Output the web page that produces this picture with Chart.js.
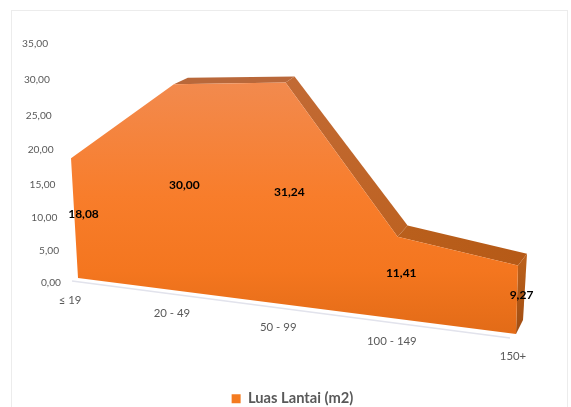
<!DOCTYPE html>
<html>
<head>
<meta charset="utf-8">
<title>Luas Lantai (m2)</title>
<script src="https://cdn.jsdelivr.net/npm/chart.js@4"></script>
<style>
  html, body { margin: 0; padding: 0; background: #ffffff; overflow: hidden; }
  #frame { position: absolute; left: 11px; top: 10px; width: 555px; height: 420px; border: 1px solid #ececec; }
  #wrap { position: absolute; left: 0; top: 0; width: 571px; height: 416px; }
</style>
</head>
<body>
<div id="frame"></div>
<div id="wrap"><canvas id="areaChart"></canvas></div>
<script>
const CATEGORIES = ['≤ 19', '20 - 49', '50 - 99', '100 - 149', '150+'];
const LUAS_LANTAI = [18.08, 30.00, 31.24, 11.41, 9.27];
const Y_MAX = 35;
const Y_STEP = 5;

const fmtValue = v => v.toFixed(2).replace('.', ',');

// 3D view: front floor edge runs between these two points, the wall leans back behind it
const FLOOR_LEFT = { x: 78, y: 278 };
const FLOOR_RIGHT = { x: 516, y: 334 };
const FLOOR_STOPS = [0, 0.235, 0.48, 0.728, 1];
const WALL_DX = [12, 14, 9, 10, 9];
const TICK_NUDGE = [-8, -9, -10, -5, -3];
const VALUE_NUDGE = [3, 0, -2, -1, 0];

// f: 0..1 across the x scale, v: data value, d: 0 front face .. 1 back face
function project(f, v, d) {
  const i = Math.round(f * 4);
  const p = FLOOR_STOPS[i];
  const unit = (6.51 + 0.006 * v) * (1 + 0.125 * f);
  const lean = -0.387 + 0.603 * f;
  let x = FLOOR_LEFT.x + (FLOOR_RIGHT.x - FLOOR_LEFT.x) * p + lean * v;
  let y = FLOOR_LEFT.y + (FLOOR_RIGHT.y - FLOOR_LEFT.y) * p - unit * v;
  x += (v === 0 ? 7 : WALL_DX[i]) * d;
  y += (-14 + 0.25 * v) * d;
  return { x, y };
}

function fillPoly(ctx, pts, style) {
  ctx.beginPath();
  pts.forEach((p, i) => i ? ctx.lineTo(p.x, p.y) : ctx.moveTo(p.x, p.y));
  ctx.closePath();
  ctx.fillStyle = style;
  ctx.fill();
}

function linearFill(ctx, a, b, c0, c1) {
  const g = ctx.createLinearGradient(a.x, a.y, b.x, b.y);
  g.addColorStop(0, c0);
  g.addColorStop(1, c1);
  return g;
}

// Draws the extruded area and its axis text from the chart's own scales
const area3d = {
  id: 'area3d',
  beforeDatasetsDraw(chart) {
    const { ctx, scales: { x: xs, y: ys } } = chart;
    const pts = chart.getDatasetMeta(0).data.map(pt => ({
      f: (pt.x - xs.left) / xs.width,
      v: ys.getValueForPixel(pt.y)
    }));
    const n = pts.length;
    const front = pts.map(p => project(p.f, p.v, 0));
    const back = pts.map(p => project(p.f, p.v, 1));
    const base0 = project(pts[0].f, 0, 0);
    const baseN = project(pts[n - 1].f, 0, 0);
    const baseBack = project(pts[n - 1].f, 0, 1);

    ctx.save();

    // floor line just below the front edge
    ctx.strokeStyle = '#e2e3ec';
    ctx.lineWidth = 1.6;
    ctx.beginPath();
    ctx.moveTo(base0.x - 6, base0.y + 3);
    ctx.lineTo(baseN.x - 6, baseN.y + 4);
    ctx.stroke();

    // top faces, the rising first segment is hidden behind the front face
    const topColors = [null, '#b9683a', '#c26a34', '#b95f1c'];
    const topEnds = [null, '#b9683a', '#bd6222', '#b65a17'];
    for (let i = 1; i < n - 1; i++) {
      fillPoly(ctx, [front[i], back[i], back[i + 1], front[i + 1]],
        linearFill(ctx, back[i], front[i + 1], topColors[i], topEnds[i]));
    }

    // right end wall
    fillPoly(ctx, [front[n - 1], back[n - 1], baseBack, baseN],
      linearFill(ctx, back[n - 1], baseN, '#bd621c', '#a14d12'));

    // front face
    const peak = Math.min(...front.map(p => p.y));
    const grad = ctx.createLinearGradient(0, peak, 0, baseN.y);
    grad.addColorStop(0, '#f28a4e');
    grad.addColorStop(0.45, '#f87d2b');
    grad.addColorStop(0.75, '#f4761f');
    grad.addColorStop(1, '#e26b17');
    fillPoly(ctx, front.concat([baseN, base0]), grad);

    ctx.restore();
  },
  afterDatasetsDraw(chart) {
    const { ctx, scales: { x: xs, y: ys } } = chart;
    const pts = chart.getDatasetMeta(0).data;

    ctx.save();
    ctx.textBaseline = 'middle';

    // value axis text leans with the back wall
    ctx.font = '10.2px Lato';
    ctx.fillStyle = '#595959';
    ctx.textAlign = 'right';
    ys.ticks.forEach(t => {
      const v = t.value;
      ctx.fillText(t.label, 61 - 0.37 * v, 282.5 - v * (6.33 + 0.0143 * v));
    });

    // category text follows the floor
    ctx.font = '11.4px Lato';
    ctx.textAlign = 'center';
    CATEGORIES.forEach((label, i) => {
      const p = project((xs.getPixelForValue(i) - xs.left) / xs.width, 0, 0);
      ctx.fillText(label, p.x + TICK_NUDGE[i], p.y + 22.5);
    });

    // data labels sit halfway up the wall
    ctx.font = 'bold 12px Lato';
    ctx.fillStyle = '#000000';
    pts.forEach((pt, i) => {
      const v = LUAS_LANTAI[i];
      const p = project((pt.x - xs.left) / xs.width, v / 2, 0.5);
      ctx.fillText(fmtValue(v), p.x + VALUE_NUDGE[i], p.y + 1.5);
    });
    ctx.restore();
  }
};

new Chart(document.getElementById('areaChart'), {
  type: 'line',
  data: {
    labels: CATEGORIES,
    datasets: [{
      label: 'Luas Lantai (m2)',
      data: LUAS_LANTAI,
      backgroundColor: '#f47b20',
      borderColor: '#f47b20',
      borderWidth: 0,
      pointRadius: 0,
      showLine: false
    }]
  },
  options: {
    responsive: true,
    maintainAspectRatio: false,
    animation: false,
    layout: { padding: { left: 14, top: 30, right: 0, bottom: 0 } },
    plugins: {
      tooltip: { enabled: false },
      legend: {
        position: 'bottom',
        labels: {
          boxWidth: 9,
          boxHeight: 9,
          padding: 5,
          color: '#595959',
          font: { family: 'Lato', size: 14.7, weight: '700' }
        }
      }
    },
    scales: {
      x: {
        offset: false,
        grid: { display: false },
        border: { display: false },
        ticks: { display: false }
      },
      y: {
        min: 0,
        max: Y_MAX,
        grid: { display: false },
        border: { display: false },
        ticks: { display: false, stepSize: Y_STEP, callback: v => fmtValue(v) }
      }
    }
  },
  plugins: [area3d]
});
</script>
</body>
</html>
